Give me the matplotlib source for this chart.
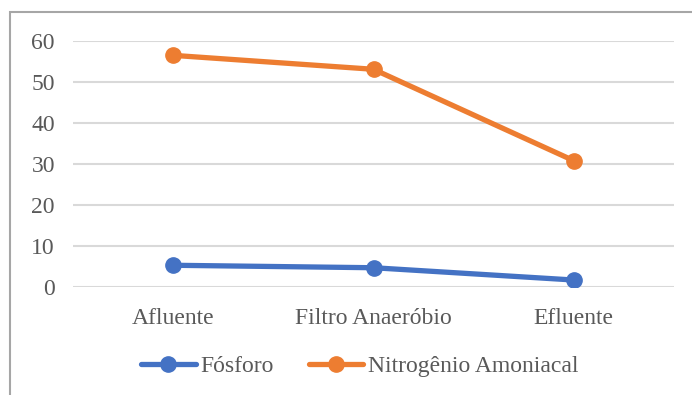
import matplotlib.pyplot as plt
from matplotlib.patches import Rectangle

etapas = ["Afluente", "Filtro Anaeróbio", "Efluente"]
fosforo = [5.3, 4.7, 1.7]
nitrogenio = [56.5, 53.1, 30.8]
yticks = [0, 10, 20, 30, 40, 50, 60]

plt.rcParams['font.family'] = ['Liberation Serif', 'DejaVu Serif']
cinza = '#595959'

fig = plt.figure(figsize=(6.92, 3.95), dpi=100)
W, H = 692, 395

# moldura do gráfico (continua para fora da imagem à direita e embaixo)
fig.patches.append(Rectangle((10 / W, -0.1), 1.0, (H - 12) / H + 0.1,
                             transform=fig.transFigure, fill=False,
                             edgecolor='#A6A6A6', linewidth=1.5))

ax = fig.add_axes([73 / W, (H - 287) / H, (674 - 73) / W, 246 / H])
x = list(range(len(etapas)))
ax.plot(x, fosforo, color='#4472C4', lw=3.8, marker='o', ms=11,
        solid_capstyle='round', label='Fósforo', zorder=3)
ax.plot(x, nitrogenio, color='#ED7D31', lw=3.8, marker='o', ms=11,
        solid_capstyle='round', label='Nitrogênio Amoniacal', zorder=3)

ax.set_xlim(-0.5, 2.5)
ax.set_ylim(0, 60)
ax.set_yticks(yticks)
ax.set_xticks(x)
ax.set_xticklabels(etapas)
ax.grid(axis='y', color='#D9D9D9', lw=1.5)
ax.set_axisbelow(True)
for s in ax.spines.values():
    s.set_visible(False)
ax.tick_params(axis='both', length=0, labelsize=17, labelcolor=cinza)
ax.tick_params(axis='y', pad=13)
ax.tick_params(axis='x', pad=15)

fig.legend(loc='center', bbox_to_anchor=(360 / W, (H - 366) / H), ncol=2,
           frameon=False, fontsize=17, labelcolor=cinza, handlelength=2.3,
           handletextpad=0.2, columnspacing=1.5)

fig.savefig('out.png', dpi=100)
